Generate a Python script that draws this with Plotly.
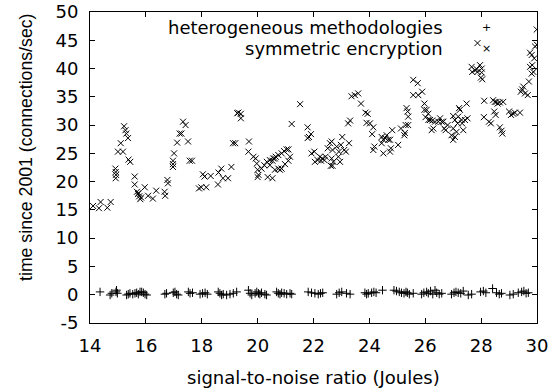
import plotly.graph_objects as go

# "symmetric encryption" series (x markers)
sym_x = [14.11, 14.38, 14.32, 14.62, 14.74, 14.91, 14.92, 14.93, 14.92,
         15.22, 15.27, 15.30, 15.36, 15.10, 15.00, 15.18, 15.38, 15.44,
         15.60, 15.60, 15.68, 15.72, 15.76, 15.80, 15.74, 15.83,
         15.96, 16.08, 16.25, 16.37, 16.67, 16.69, 16.77, 16.79,
         17.01, 16.97, 16.97, 16.97, 17.12, 17.21, 17.27, 17.33, 17.42, 17.51, 17.57, 17.65,
         17.90, 17.98, 18.16, 18.04, 18.10, 18.32, 18.58, 18.60, 18.70, 18.76, 18.94, 19.06,
         19.12, 19.20, 19.27,
         19.31, 19.40, 19.40, 19.69, 19.67, 19.85, 19.93, 19.97, 20.00, 20.03, 20.00,
         20.14, 20.24, 20.33, 20.44, 20.56, 20.65, 20.74, 20.86, 20.95, 21.04, 21.10,
         20.36, 20.53, 20.62, 20.74, 20.80, 20.86, 20.98, 21.10, 21.16,
         20.44, 20.53, 20.62,
         21.22, 21.52, 21.79, 21.84, 21.91, 21.79,
         21.93, 22.03, 22.05, 22.15, 22.23, 22.27, 22.31, 22.39, 22.43, 22.51, 22.59, 22.65,
         22.68, 22.65, 22.71, 22.62, 22.68, 22.83, 22.91, 22.98, 23.03, 23.10, 23.16, 22.95,
         22.89, 23.27, 23.24, 23.31,
         23.36, 23.48, 23.60, 23.70, 23.86, 23.94, 23.90, 24.02, 24.14, 24.10, 24.14, 24.18,
         24.44, 24.50, 24.56, 24.62, 24.68, 24.44, 24.50,
         24.74, 24.77, 24.74, 24.82, 25.03, 25.13, 25.25, 25.27, 25.30, 25.39, 25.33, 25.37, 25.39,
         25.57, 25.73, 25.57, 25.75, 25.89, 25.97, 25.97, 26.05, 26.11, 26.01, 26.11, 26.17, 26.25, 26.23,
         26.35, 26.47, 26.59, 26.65, 26.53, 26.29, 26.68, 26.73, 26.80,
         27.00, 26.94, 27.00, 27.06, 27.12, 27.16, 27.24, 27.21, 27.00, 27.06, 27.18, 27.30, 27.36,
         27.32, 27.42, 27.48, 27.51,
         27.66, 27.78, 27.84, 27.96, 28.02, 28.02, 27.99, 28.04, 27.87, 27.68, 28.11, 27.87,
         28.10, 28.28, 28.35, 28.43, 28.49, 28.55, 28.59, 28.67, 28.79, 28.47, 28.52,
         28.67, 28.73, 28.76,
         29.00, 29.07, 29.15, 29.21, 29.39,
         29.42, 29.47, 29.51, 29.57, 29.67, 29.71,
         29.81, 29.75, 29.83, 29.87, 29.90, 29.81, 29.75, 29.93, 30.00, 29.99]
sym_y = [15.7, 16.4, 15.3, 15.4, 16.4, 22.3, 21.7, 21.2, 20.6,
         29.8, 29.1, 28.5, 27.7, 26.8, 25.3, 25.3, 23.9, 23.5,
         20.9, 19.5, 18.2, 17.8, 17.4, 16.9, 18.0, 17.2,
         19.0, 17.5, 17.0, 18.4, 18.2, 17.5, 20.3, 19.7,
         25.0, 23.7, 23.1, 22.6, 26.9, 28.5, 28.5, 30.6, 30.0, 27.1, 23.7, 23.7,
         18.8, 19.0, 19.0, 21.3, 20.9, 21.0, 19.5, 21.6, 22.3, 20.6, 20.6, 22.6,
         26.8, 26.8, 32.1,
         32.2, 32.0, 31.2, 27.1, 25.3, 24.4, 24.1, 23.2, 22.1, 21.2, 20.8,
         22.3, 22.9, 23.5, 23.8, 24.1, 24.4, 24.7, 25.0, 25.4, 25.7, 25.7,
         20.8, 20.6, 22.1, 22.3, 22.1, 22.3, 23.1, 23.7, 24.4,
         22.9, 23.7, 24.1,
         30.2, 33.7, 29.6, 27.9, 28.4, 27.7,
         25.0, 25.3, 23.5, 23.8, 24.4, 23.7, 24.1, 23.8, 24.4, 25.9, 26.8, 27.1,
         25.6, 24.1, 23.5, 22.8, 22.8, 26.2, 25.3, 26.5, 27.9, 25.6, 25.3, 23.5,
         24.4, 26.8, 30.3, 30.8,
         35.1, 35.3, 35.6, 33.8, 32.2, 32.0, 30.4, 30.3, 29.6, 28.4, 25.6, 26.2,
         27.9, 27.4, 27.7, 28.2, 27.4, 26.8, 25.0,
         27.4, 25.9, 25.3, 29.1, 26.5, 29.4, 28.2, 28.6, 30.0, 30.0, 33.0, 32.4, 31.5,
         38.0, 37.4, 35.3, 35.3, 35.9, 33.8, 32.7, 32.7, 32.0, 31.4, 30.9, 30.9, 30.8, 29.1,
         30.6, 30.6, 30.6, 30.6, 31.2, 29.4, 29.4, 29.1, 30.0,
         29.4, 28.2, 27.4, 27.9, 28.8, 30.3, 32.7, 33.0, 31.6, 30.9, 31.5, 30.9, 29.1,
         30.3, 30.9, 33.8, 31.2,
         40.3, 39.7, 39.9, 40.6, 40.0, 39.3, 38.4, 38.1, 39.4, 39.4, 34.3, 44.5,
         31.4, 30.6, 30.3, 34.4, 34.1, 34.1, 33.8, 34.0, 34.1, 32.4, 31.8,
         29.6, 29.0, 28.5,
         32.4, 31.8, 32.0, 32.2, 32.2,
         35.9, 36.3, 36.8, 35.6, 35.3, 37.7,
         39.1, 40.3, 40.6, 39.4, 41.8, 42.4, 42.8, 43.9, 44.2, 46.9]

# "heterogeneous methodologies" series (+ markers)
het_x = [14.36, 14.72, 14.78, 14.93, 14.98, 14.95,
         15.31, 15.37, 15.43, 15.53, 15.61, 15.67, 15.73, 15.79, 15.85, 15.91, 15.97, 16.03,
         16.68, 16.74, 16.98, 17.04, 17.10, 17.16,
         17.52, 17.58, 17.67,
         17.94, 18.03, 18.12, 18.20,
         18.59, 18.65, 18.71, 18.77, 18.89, 19.01, 19.13, 19.25,
         19.67, 19.73, 19.79, 19.91, 19.97, 20.03, 20.08, 20.14, 20.26, 20.32,
         20.68, 20.74, 20.80, 20.86, 20.95, 21.04, 21.16, 21.22,
         21.81, 21.93, 22.05, 22.17, 22.25, 22.33,
         22.83, 22.92, 23.01, 23.18, 23.31,
         23.84, 23.90, 23.96, 24.08, 24.16, 24.24, 24.47,
         24.88, 24.97, 25.07, 25.15, 25.24, 25.31, 25.36, 25.43, 25.57,
         25.87, 25.95, 26.05, 26.11, 26.19, 26.27, 26.35, 26.41, 26.50, 26.59,
         26.94, 27.03, 27.10, 27.18, 27.27, 27.36, 27.54, 27.66,
         27.98, 28.08, 28.17, 28.41, 28.55, 28.65, 28.73,
         29.03, 29.15, 29.33, 29.45, 29.53, 29.61, 29.69]
het_y = [0.5, -0.05, 0.25, 0.5, 0.25, 0.8,
         -0.05, 0.1, 0.25, 0.1, 0.25, 0.35, 0.1, 0.5, 0.5, 0.35, 0.1, -0.05,
         0.1, 0.25, 0.35, 0.5, 0.1, -0.05,
         0.5, 0.25, 0.35,
         0.1, 0.25, 0.35, 0.1,
         0.5, 0.25, -0.05, 0.1, -0.05, 0.1, 0.25, 0.5,
         0.8, 0.25, -0.05, 0.25, 0.5, 0.25, 0.1, 0.35, 0.1, -0.05,
         0.5, 0.25, 0.1, 0.35, 0.25, 0.1, 0.25, 0.1,
         0.5, 0.35, 0.25, 0.1, 0.25, 0.35,
         0.1, 0.35, 0.5, 0.25, 0.1,
         0.35, 0.1, 0.25, 0.35, 0.5, 0.35, 0.8,
         0.8, 0.65, 0.5, 0.35, 0.25, 0.5, 0.35, 0.1, 0.25,
         0.1, 0.35, 0.5, 0.25, 0.65, 0.1, 0.8, 0.35, 0.1, 0.25,
         0.1, 0.35, 0.5, 0.35, 0.25, 0.65, -0.05, 0.1,
         0.5, 0.65, 0.35, 1.1, 0.35, 0.1, 0.25,
         -0.05, 0.1, 0.35, 0.5, 0.65, 0.25, 0.35]

x_ticks = [14, 16, 18, 20, 22, 24, 26, 28, 30]
y_ticks = [-5, 0, 5, 10, 15, 20, 25, 30, 35, 40, 45, 50]
series_names = ["heterogeneous methodologies", "symmetric encryption"]
x_title = "signal-to-noise ratio (Joules)"
y_title = "time since 2001 (connections/sec)"

TICKFONT = dict(family="DejaVu Sans", size=18, color="black")

fig = go.Figure()
fig.add_trace(go.Scatter(
    x=het_x, y=het_y, mode="markers", name=series_names[0],
    marker=dict(symbol="cross-thin", size=6, line=dict(width=1, color="black"), color="black"),
    showlegend=False))
fig.add_trace(go.Scatter(
    x=sym_x, y=sym_y, mode="markers", name=series_names[1],
    marker=dict(symbol="x-thin", size=6, line=dict(width=1, color="black"), color="black"),
    showlegend=False))

axis_common = dict(showline=True, linecolor="black", linewidth=1, mirror="ticks",
                   ticks="inside", ticklen=5, tickcolor="black", tickwidth=1,
                   showgrid=False, zeroline=False, tickfont=TICKFONT, automargin=False)

fig.update_xaxes(range=[14, 30], tickvals=x_ticks, ticktext=[str(v) for v in x_ticks],
                 ticklabelstandoff=6, **axis_common)
fig.update_yaxes(range=[-5, 50], tickvals=y_ticks, ticktext=[str(v) for v in y_ticks],
                 ticklabelstandoff=7, **axis_common)

# axis titles placed like the gnuplot original
fig.add_annotation(x=0.5, y=-0.174, xref="paper", yref="paper", text=x_title,
                   showarrow=False, xanchor="center", yanchor="middle",
                   font=dict(family="DejaVu Sans", size=18, color="black"))
fig.add_annotation(x=-0.1432, y=0.566, xref="paper", yref="paper", text=y_title,
                   textangle=-90, showarrow=False, xanchor="center", yanchor="middle",
                   font=dict(family="Liberation Sans", size=17.7, color="black"))

# gnuplot-style key: text right-aligned, sample to the right
key_text_x = 0.794
key_sample_x = 0.888
key_rows = [0.9486, 0.8842]
key_glyphs = ["+", "×"]
for name, yk, g in zip(series_names, key_rows, key_glyphs):
    fig.add_annotation(x=key_text_x, y=yk, xref="paper", yref="paper", text=name,
                       showarrow=False, xanchor="right", yanchor="middle",
                       font=dict(family="DejaVu Sans", size=18, color="black"))
    fig.add_annotation(x=key_sample_x, y=yk, xref="paper", yref="paper", text=g,
                       showarrow=False, xanchor="center", yanchor="middle",
                       font=dict(family="DejaVu Sans", size=11, color="black"))

fig.update_layout(width=554, height=389,
                  margin=dict(l=90, r=17, t=12, b=66, autoexpand=False),
                  plot_bgcolor="white", paper_bgcolor="white", showlegend=False)

# remove the browser's default body margin so the figure fills the window exactly
fig.write_html("out.html", config={"displayModeBar": False},
               post_script="document.body.style.margin='0px';")
